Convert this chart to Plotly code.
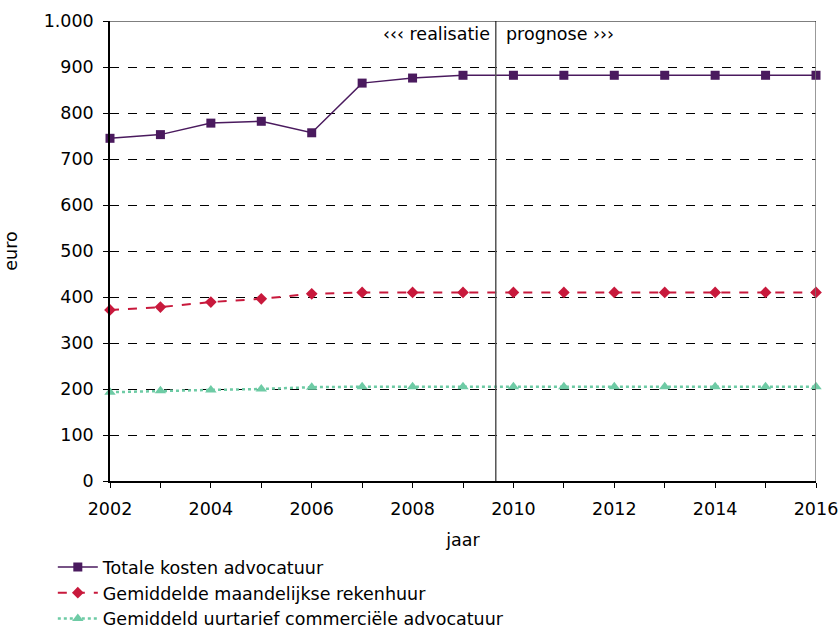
import plotly.graph_objects as go

jaren = list(range(2002, 2017))
totale_kosten = [745, 753, 778, 782, 757, 865, 876, 882, 882, 882, 882, 882, 882, 882, 882]
rekenhuur = [372, 378, 389, 396, 407, 410, 410, 410, 410, 410, 410, 410, 410, 410, 410]
uurtarief = [193, 196, 198, 200, 204, 205, 205, 205, 205, 205, 205, 205, 205, 205, 205]
y_ticks = [0, 100, 200, 300, 400, 500, 600, 700, 800, 900, 1000]
y_labels = ["0", "100", "200", "300", "400", "500", "600", "700", "800", "900", "1.000"]
grens = 2009.65

font = dict(family="DejaVu Sans, Verdana, sans-serif", size=17.5, color="#000000")

fig = go.Figure()
fig.add_trace(go.Scatter(
    x=jaren, y=totale_kosten, name="Totale kosten advocatuur", mode="lines+markers",
    line=dict(color="#4a1a5e", width=1.5), marker=dict(symbol="square", size=9, color="#4a1a5e"),
    cliponaxis=False))
fig.add_trace(go.Scatter(
    x=jaren, y=rekenhuur, name="Gemiddelde maandelijkse rekenhuur", mode="lines+markers",
    line=dict(color="#c8193c", width=2, dash="dash"), marker=dict(symbol="diamond", size=9, color="#c8193c"),
    cliponaxis=False))
fig.add_trace(go.Scatter(
    x=jaren, y=uurtarief, name="Gemiddeld uurtarief commerciële advocatuur", mode="lines+markers",
    line=dict(color="#6ecba5", width=2.5, dash="dot"), marker=dict(symbol="triangle-up", size=10, color="#6ecba5"),
    cliponaxis=False))

# scheiding realisatie / prognose
fig.add_shape(type="line", x0=grens, x1=grens, y0=0, y1=1000, xref="x", yref="y",
              line=dict(color="#555555", width=1.5))
fig.add_shape(type="line", x0=2016, x1=2016, y0=0, y1=1000, xref="x", yref="y",
              line=dict(color="#777777", width=1.5))
fig.add_shape(type="line", x0=2002, x1=2016, y0=1000, y1=1000, xref="x", yref="y",
              line=dict(color="#000000", width=1))
fig.add_annotation(x=grens, y=1000, xref="x", yref="y", text="‹‹‹ realisatie", showarrow=False,
                   xanchor="right", yanchor="top", xshift=-4, yshift=-1, font=font)
fig.add_annotation(x=grens, y=1000, xref="x", yref="y", text="prognose ›››", showarrow=False,
                   xanchor="left", yanchor="top", xshift=8, yshift=-1, font=font)

fig.update_layout(
    width=838, height=629,
    margin=dict(l=110, r=22, t=21, b=148, autoexpand=False),
    plot_bgcolor="white", paper_bgcolor="white",
    font=font,
    showlegend=True,
    legend=dict(x=-0.081, y=-0.148, xanchor="left", yanchor="top", orientation="v",
                font=font, tracegroupgap=0, itemwidth=40, bgcolor="rgba(0,0,0,0)"),
    xaxis=dict(
        title=dict(text="jaar", font=font, standoff=16),
        automargin=False,
        range=[2002, 2016], tickmode="linear", tick0=2002, dtick=2,
        ticks="outside", ticklen=5, tickcolor="#000000", ticklabelstandoff=6,
        ticklabeloverflow="allow",
        minor=dict(dtick=1, ticks="outside", ticklen=5, tickcolor="#000000"),
        showline=True, linecolor="#000000", linewidth=1.5,
        showgrid=False, zeroline=False, tickfont=font),
    yaxis=dict(
        title=dict(text="euro", font=font, standoff=22),
        automargin=False,
        range=[0, 1000], tickmode="array", tickvals=y_ticks, ticktext=y_labels,
        ticks="outside", ticklen=5, tickcolor="#000000", ticklabelstandoff=6,
        showline=True, linecolor="#000000", linewidth=1.5,
        showgrid=True, gridcolor="#000000", griddash="dash", gridwidth=1,
        zeroline=False, tickfont=font),
)

# drop the default body margin so the figure fills the window exactly
fig.write_html("out.html", config={"displayModeBar": False},
               post_script="document.body.style.margin='0';document.body.style.overflow='hidden';")
